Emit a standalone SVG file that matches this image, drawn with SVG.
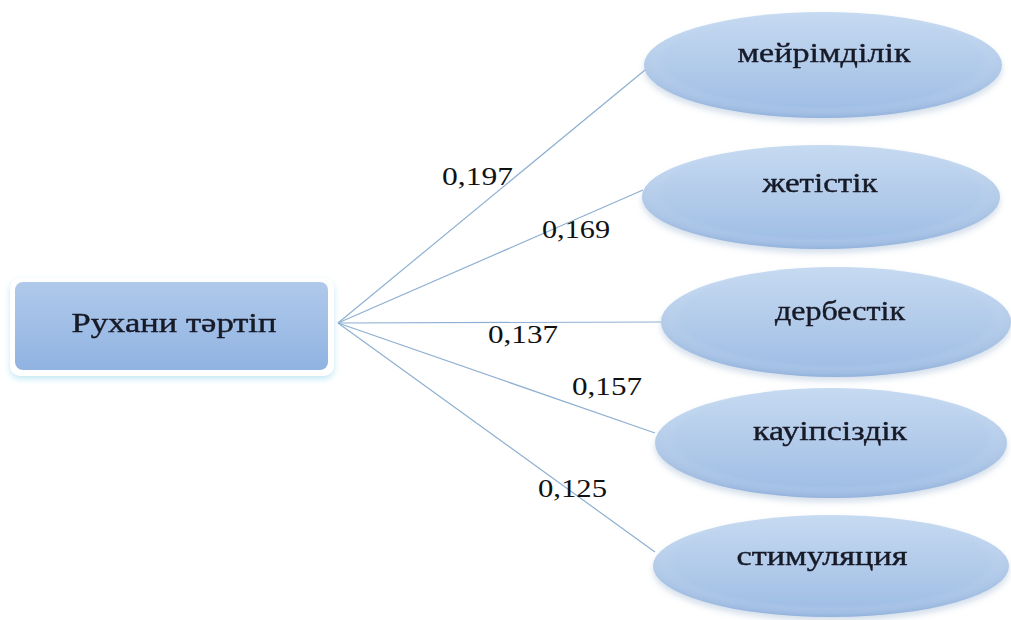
<svg xmlns="http://www.w3.org/2000/svg" width="1011" height="620" viewBox="0 0 1011 620">
  <defs>
    <linearGradient id="ellFill" x1="0" y1="0" x2="0" y2="1">
      <stop offset="0" stop-color="#c6daf1"/>
      <stop offset="0.5" stop-color="#b2cbea"/>
      <stop offset="1" stop-color="#9cbbe4"/>
    </linearGradient>
    <radialGradient id="ellEdge" cx="0.5" cy="0.45" r="0.55">
      <stop offset="0.8" stop-color="#ffffff" stop-opacity="0"/>
      <stop offset="1" stop-color="#7f9fcc" stop-opacity="0.35"/>
    </radialGradient>
    <linearGradient id="rectFill" x1="0" y1="0" x2="0" y2="1">
      <stop offset="0" stop-color="#b0c9ea"/>
      <stop offset="1" stop-color="#90b3e2"/>
    </linearGradient>
    <filter id="shadow" x="-10%" y="-20%" width="120%" height="150%">
      <feGaussianBlur in="SourceAlpha" stdDeviation="3"/>
      <feOffset dx="0" dy="4" result="b"/>
      <feFlood flood-color="#9fb6d0" flood-opacity="0.45"/>
      <feComposite in2="b" operator="in"/>
      <feMerge><feMergeNode/><feMergeNode in="SourceGraphic"/></feMerge>
    </filter>
    <filter id="glow" x="-10%" y="-20%" width="120%" height="150%">
      <feGaussianBlur in="SourceAlpha" stdDeviation="3"/>
      <feOffset dx="0" dy="3" result="b"/>
      <feFlood flood-color="#a8dff0" flood-opacity="0.7"/>
      <feComposite in2="b" operator="in"/>
      <feMerge><feMergeNode/><feMergeNode in="SourceGraphic"/></feMerge>
    </filter>
  </defs>
  <style>
    .ell { fill: url(#ellFill); }
    .edge { fill: url(#ellEdge); }
    .node-text { font-family: "Liberation Serif", "Times New Roman", serif; font-size: 28px; fill: #171a28; stroke: #171a28; stroke-width: 0.4; text-anchor: middle; }
    .lbl { font-family: "Liberation Serif", "Times New Roman", serif; font-size: 26px; fill: #111111; }
    .conn { stroke: #8fb0d2; stroke-width: 1.2; fill: none; }
  </style>
  <rect width="1011" height="620" fill="#ffffff"/>

  <g id="connectors">
    <line class="conn" x1="338" y1="323" x2="645" y2="70"/>
    <line class="conn" x1="338" y1="323" x2="643" y2="190"/>
    <line class="conn" x1="338" y1="323" x2="662" y2="322"/>
    <line class="conn" x1="338" y1="323" x2="655" y2="433"/>
    <line class="conn" x1="338" y1="323" x2="655" y2="552"/>
  </g>

  <g id="labels">
    <text class="lbl" x="442" y="185" textLength="71" lengthAdjust="spacingAndGlyphs">0,197</text>
    <text class="lbl" x="542" y="238" textLength="68" lengthAdjust="spacingAndGlyphs">0,169</text>
    <text class="lbl" x="488" y="343" textLength="70" lengthAdjust="spacingAndGlyphs">0,137</text>
    <text class="lbl" x="572" y="395" textLength="70" lengthAdjust="spacingAndGlyphs">0,157</text>
    <text class="lbl" x="538" y="497" textLength="69" lengthAdjust="spacingAndGlyphs">0,125</text>
  </g>

  <g id="node-root" filter="url(#glow)">
    <rect x="10" y="278" width="324" height="98" rx="10" fill="#ffffff"/>
    <rect x="15" y="282" width="313" height="88" rx="8" fill="url(#rectFill)"/>
    <text class="node-text" x="174" y="332" textLength="205" lengthAdjust="spacingAndGlyphs">Рухани тәртіп</text>
  </g>

  <g id="node-1" filter="url(#shadow)">
    <ellipse class="ell" cx="823" cy="65" rx="179" ry="53"/>
    <ellipse class="edge" cx="823" cy="65" rx="179" ry="53"/>
    <text class="node-text" x="824" y="62" textLength="173" lengthAdjust="spacingAndGlyphs">мейрімділік</text>
  </g>

  <g id="node-2" filter="url(#shadow)">
    <ellipse class="ell" cx="821" cy="197" rx="179" ry="52"/>
    <ellipse class="edge" cx="821" cy="197" rx="179" ry="52"/>
    <text class="node-text" x="820" y="192" textLength="115" lengthAdjust="spacingAndGlyphs">жетістік</text>
  </g>

  <g id="node-3" filter="url(#shadow)">
    <ellipse class="ell" cx="836" cy="322" rx="175" ry="55"/>
    <ellipse class="edge" cx="836" cy="322" rx="175" ry="55"/>
    <text class="node-text" x="840" y="320" textLength="130" lengthAdjust="spacingAndGlyphs">дербестік</text>
  </g>

  <g id="node-4" filter="url(#shadow)">
    <ellipse class="ell" cx="831" cy="443" rx="176" ry="55"/>
    <ellipse class="edge" cx="831" cy="443" rx="176" ry="55"/>
    <text class="node-text" x="830" y="440" textLength="154" lengthAdjust="spacingAndGlyphs">кауіпсіздік</text>
  </g>

  <g id="node-5" filter="url(#shadow)">
    <ellipse class="ell" cx="831" cy="566" rx="178" ry="51"/>
    <ellipse class="edge" cx="831" cy="566" rx="178" ry="51"/>
    <text class="node-text" x="822" y="565" textLength="171" lengthAdjust="spacingAndGlyphs">стимуляция</text>
  </g>
</svg>
